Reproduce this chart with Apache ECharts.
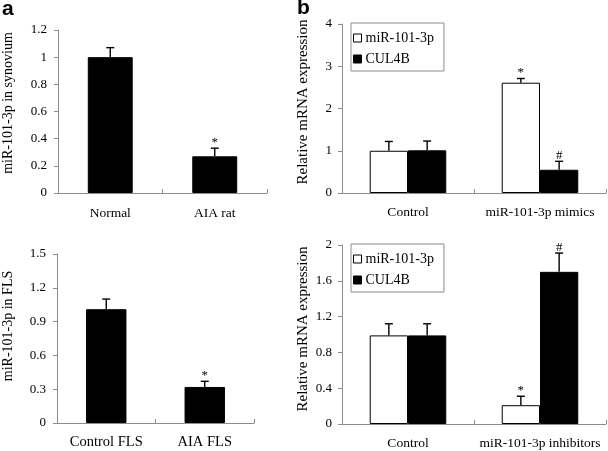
<!DOCTYPE html>
<html>
<head>
<meta charset="utf-8">
<script src="https://cdn.jsdelivr.net/npm/echarts@6/dist/echarts.min.js"></script>
<style>html,body{margin:0;padding:0;background:#fff;}#c{width:608px;height:451px;}</style>
</head>
<body>
<div id="c"></div>
<script>
// ---- Data ----
const catsA = ['Normal', 'AIA rat'];
const valsA = [1.0, 0.27];
const errA = [0.07, 0.06];
const marksA = ['', '*'];

const catsC = ['Control FLS', 'AIA FLS'];
const valsC = [1.01, 0.32];
const errC = [0.09, 0.05];
const marksC = ['', '*'];

const seriesNames = ['miR-101-3p', 'CUL4B'];

const catsB = ['Control', 'miR-101-3p mimics'];
const mirB = [1.0, 2.61];
const mirErrB = [0.22, 0.10];
const mirMarksB = ['', '*'];
const culB = [1.01, 0.55];
const culErrB = [0.22, 0.20];
const culMarksB = ['', '#'];

const catsD = ['Control', 'miR-101-3p inhibitors'];
const mirD = [0.99, 0.21];
const mirErrD = [0.13, 0.10];
const mirMarksD = ['', '*'];
const culD = [0.99, 1.70];
const culErrD = [0.13, 0.21];
const culMarksD = ['', '#'];

const yTicksA = [0, 1.2, 0.2];
const yTicksC = [0, 1.5, 0.3];
const yTicksB = [0, 4, 1];
const yTicksD = [0, 2, 0.4];

// ---- Styling helpers ----
const SERIF = '"Liberation Serif", "Times New Roman", serif';
const AXIS_GRAY = '#8c8c8c';

function xAxis(grid, cats, fs, margin) {
  return {
    type: 'category', gridIndex: grid, data: cats,
    axisLine: { lineStyle: { color: AXIS_GRAY, width: 1 } },
    axisTick: { show: true, inside: true, length: 4, lineStyle: { color: AXIS_GRAY } },
    axisLabel: { color: '#000', fontFamily: SERIF, fontSize: fs, margin: margin, interval: 0, hideOverlap: false },
    splitLine: { show: false }
  };
}
function yAxis(grid, t, fmt, margin) {
  return {
    type: 'value', gridIndex: grid, min: t[0], max: t[1], interval: t[2],
    axisLine: { show: true, lineStyle: { color: AXIS_GRAY, width: 1 } },
    axisTick: { show: true, length: 4, lineStyle: { color: AXIS_GRAY } },
    axisLabel: { color: '#000', fontFamily: SERIF, fontSize: 13, margin: margin,
      formatter: fmt },
    splitLine: { show: false }
  };
}
function bar(name, xi, vals, color, width) {
  return {
    name: name, type: 'bar', xAxisIndex: xi, yAxisIndex: xi, data: vals,
    barWidth: width, barGap: '0%', silent: true,
    itemStyle: { color: color, borderColor: '#000', borderWidth: 1 }
  };
}
function errSeries(xi, vals, errs, marks, offsetFrac) {
  return {
    type: 'custom', xAxisIndex: xi, yAxisIndex: xi, z: 10, silent: true,
    data: vals.map((v, i) => [i, v, errs[i]]),
    renderItem: function (params, api) {
      const i = api.value(0), v = api.value(1), e = api.value(2);
      const catW = api.size([1, 0])[0];
      const base = api.coord([i, v]);
      const top = api.coord([i, v + e]);
      const x = base[0] + offsetFrac * catW;
      const children = [
        { type: 'line', shape: { x1: x, y1: base[1], x2: x, y2: top[1] },
          style: { stroke: '#000', lineWidth: 1.4 } },
        { type: 'line', shape: { x1: x - 4, y1: top[1], x2: x + 4, y2: top[1] },
          style: { stroke: '#000', lineWidth: 1.4 } }
      ];
      const m = marks[params.dataIndex];
      if (m) {
        children.push({ type: 'text', x: x, y: top[1] + 1,
          style: { text: m, fill: '#000', font: '13px ' + SERIF,
            textAlign: 'center', textVerticalAlign: 'bottom', align: 'center', verticalAlign: 'bottom' } });
      }
      return { type: 'group', children: children };
    }
  };
}
function legend(top) {
  return {
    orient: 'vertical', left: 351, top: top, data: seriesNames,
    icon: 'rect', itemWidth: 8, itemHeight: 8, itemGap: 7,
    padding: [8, 10, 5, 2],
    borderColor: AXIS_GRAY, borderWidth: 1, backgroundColor: '#fff',
    itemStyle: { borderColor: '#000', borderWidth: 1 },
    textStyle: { color: '#000', fontFamily: SERIF, fontSize: 14, padding: [0, 0, 0, -1] },
    selectedMode: false
  };
}
function yTitle(text, x, y, fs) {
  return { type: 'text', x: x, y: y, rotation: Math.PI / 2,
    style: { text: text, fill: '#000', font: fs + 'px ' + SERIF,
      textAlign: 'center', textVerticalAlign: 'middle', align: 'center', verticalAlign: 'middle' } };
}

const chart = echarts.init(document.getElementById('c'), null, { renderer: 'canvas' });
const fmtA = v => (v === 0 || v === 1) ? String(v) : v.toFixed(1);
const fmtC = v => v === 0 ? '0' : v.toFixed(1);
const fmtB = v => String(v);
const fmtD = v => (v === 0 || v === 2) ? String(v) : v.toFixed(1);

chart.setOption({
  animation: false,
  backgroundColor: '#fff',
  grid: [
    { left: 58, top: 30, width: 209, height: 163 },
    { left: 57, top: 254, width: 197, height: 169 },
    { left: 342, top: 24, width: 264, height: 169 },
    { left: 342, top: 245, width: 264, height: 179 }
  ],
  xAxis: [
    xAxis(0, catsA, 13.5, 13),
    xAxis(1, catsC, 14.5, 12),
    xAxis(2, catsB, 13.5, 12),
    xAxis(3, catsD, 13.5, 12)
  ],
  yAxis: [
    yAxis(0, yTicksA, fmtA, 11),
    yAxis(1, yTicksC, fmtC, 11),
    yAxis(2, yTicksB, fmtB, 10),
    yAxis(3, yTicksD, fmtD, 10)
  ],
  legend: [legend(23), legend(244)],
  series: [
    bar('A', 0, valsA, '#000', '43%'),
    errSeries(0, valsA, errA, marksA, 0),
    bar('C', 1, valsC, '#000', '41%'),
    errSeries(1, valsC, errC, marksC, 0),
    bar(seriesNames[0], 2, mirB, '#fff', '29%'),
    bar(seriesNames[1], 2, culB, '#000', '29%'),
    errSeries(2, mirB, mirErrB, mirMarksB, -0.145),
    errSeries(2, culB, culErrB, culMarksB, 0.145),
    bar(seriesNames[0], 3, mirD, '#fff', '29%'),
    bar(seriesNames[1], 3, culD, '#000', '29%'),
    errSeries(3, mirD, mirErrD, mirMarksD, -0.145),
    errSeries(3, culD, culErrD, culMarksD, 0.145)
  ],
  graphic: [
    { type: 'text', x: 2, y: -1, style: { text: 'a', fill: '#000',
      font: 'bold 21px "Liberation Sans", Arial, sans-serif', textVerticalAlign: 'top', verticalAlign: 'top' } },
    { type: 'text', x: 297, y: -2, style: { text: 'b', fill: '#000',
      font: 'bold 21px "Liberation Sans", Arial, sans-serif', textVerticalAlign: 'top', verticalAlign: 'top' } },
    yTitle('miR-101-3p in synovium', 8, 103, 14),
    yTitle('miR-101-3p in FLS', 8, 326, 14),
    yTitle('Relative mRNA expression', 303.5, 102, 15),
    yTitle('Relative mRNA expression', 303.5, 329, 15)
  ]
});
</script>
</body>
</html>
